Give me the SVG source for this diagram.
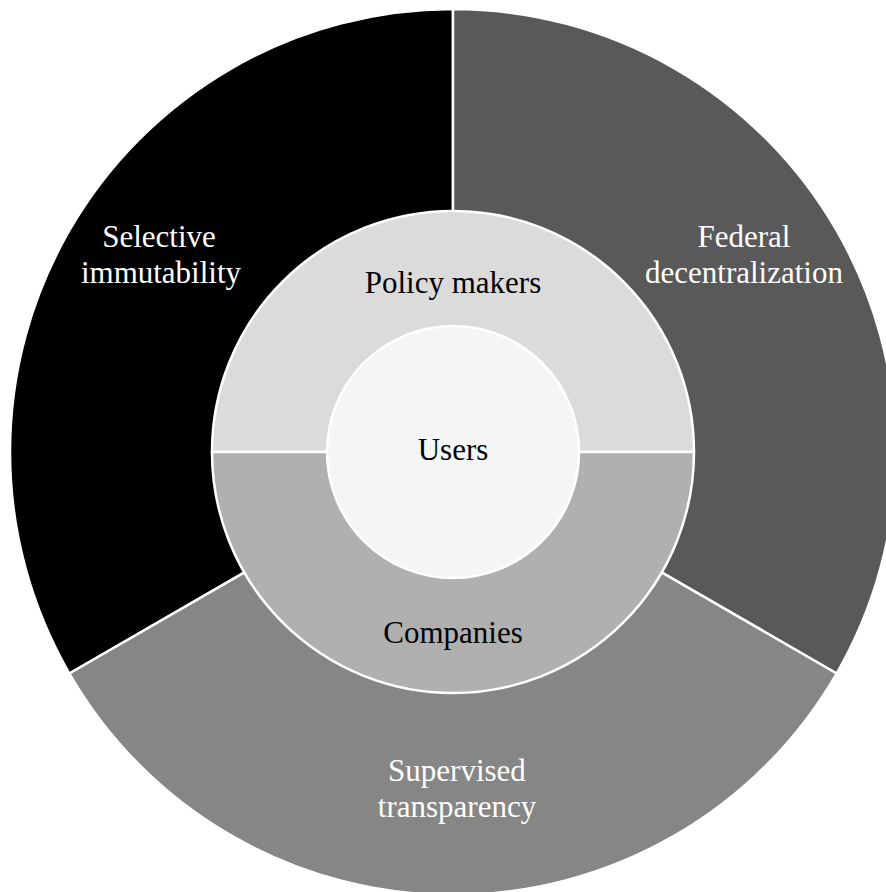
<svg xmlns="http://www.w3.org/2000/svg" width="886" height="892" viewBox="0 0 886 892">
  <style>
    .seg { stroke: #ffffff; stroke-width: 2.5; stroke-linejoin: round; }
    .lbl { font-family: "Liberation Serif", "Times New Roman", serif; font-size: 31px; text-anchor: middle; }
    .light { fill: #ffffff; }
    .dark { fill: #000000; }
  </style>
  <rect width="886" height="892" fill="#ffffff"/>

  <!-- outer ring: three 120 degree wedges around (453,452), r=443 -->
  <g id="selective-immutability">
    <path class="seg" fill="#000000" d="M453,452 L453,9 A443,443 0 0 0 69.35,673.5 Z"/>
    <text class="lbl light" x="159" y="247">Selective</text>
    <text class="lbl light" x="161" y="283">immutability</text>
  </g>
  <g id="federal-decentralization">
    <path class="seg" fill="#595959" d="M453,452 L836.65,673.5 A443,443 0 0 0 453,9 Z"/>
    <text class="lbl light" x="744" y="247">Federal</text>
    <text class="lbl light" x="744" y="283">decentralization</text>
  </g>
  <g id="supervised-transparency">
    <path class="seg" fill="#868686" d="M453,452 L69.35,673.5 A443,443 0 0 0 836.65,673.5 Z"/>
    <text class="lbl light" x="457" y="781">Supervised</text>
    <text class="lbl light" x="457" y="817">transparency</text>
  </g>

  <!-- middle ring: two half discs, r=241 -->
  <g id="policy-makers">
    <path class="seg" fill="#dbdbdb" d="M212,452 A241,241 0 0 1 694,452 Z"/>
    <text class="lbl dark" x="453" y="293">Policy makers</text>
  </g>
  <g id="companies">
    <path class="seg" fill="#b0b0b0" d="M212,452 A241,241 0 0 0 694,452 Z"/>
    <text class="lbl dark" x="453" y="643">Companies</text>
  </g>

  <!-- centre disc, r=126 -->
  <g id="users">
    <circle class="seg" cx="453" cy="452" r="126" fill="#f5f5f5"/>
    <text class="lbl dark" x="453" y="460">Users</text>
  </g>
</svg>
